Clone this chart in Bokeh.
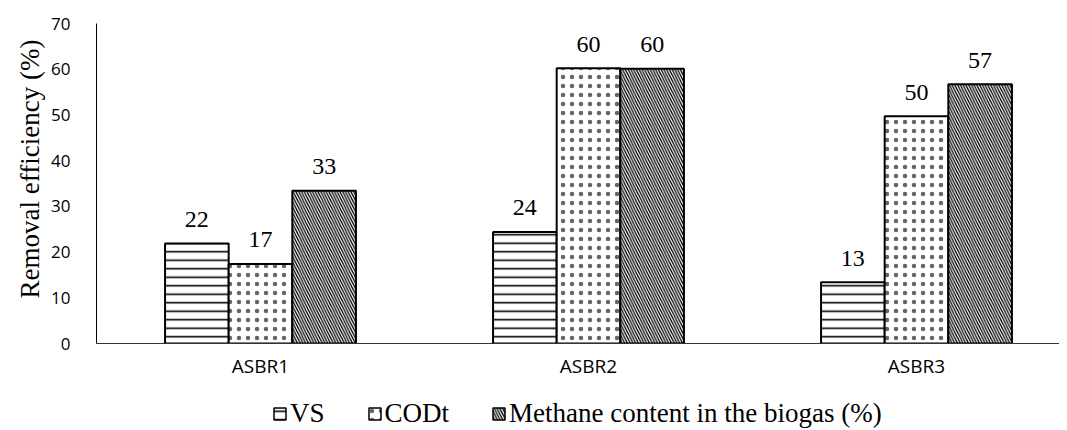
from bokeh.plotting import figure
from bokeh.models import ColumnDataSource, Range1d, FixedTicker, Legend, LegendItem, Title
from bokeh.layouts import column
from bokeh.core.properties import value
from bokeh.embed import file_html
from bokeh.resources import INLINE

categories = ["ASBR1", "ASBR2", "ASBR3"]
vs = [21.9, 24.4, 13.4]
codt = [17.4, 60.2, 49.7]
methane = [33.4, 60.1, 56.7]
series_names = ["VS", "CODt", "Methane content in the biogas (%)"]
y_ticks = [0, 10, 20, 30, 40, 50, 60, 70]
y_title = "Removal efficiency (%)"

SERIF = "Liberation Serif"
SANS = "Open Sans"

p = figure(frame_width=963, frame_height=320, output_backend="svg", toolbar_location=None,
           x_range=Range1d(0, 2.936), y_range=Range1d(0, 70),
           min_border_left=96, min_border_right=0, min_border_top=23, min_border_bottom=45)
p.outline_line_color = None
p.grid.visible = False

centers = [i + 0.5 for i in range(len(categories))]
bw = 0.194
offsets = [-bw, 0.0, bw]
hatches = [("-", 8.5, 1.6, 1.0), (".", 9, 0.7, 0.6), ("\\", 5.5, 1.3, 1.0)]
styles = dict(fill_color="white", line_color="black", line_width=2, hatch_color="black")

for vals, off, (hp, hs, hw, ha) in zip([vs, codt, methane], offsets, hatches):
    xs = [c + off for c in centers]
    src = ColumnDataSource(dict(x=xs, top=vals, lab=[str(int(round(v))) for v in vals]))
    p.vbar(x="x", top="top", width=bw, bottom=0, source=src,
           hatch_pattern=hp, hatch_scale=hs, hatch_weight=hw, hatch_alpha=ha, **styles)
    p.text(x="x", y="top", text="lab", source=src, text_align="center",
           text_baseline="alphabetic", y_offset=-24, text_font=value(SERIF),
           text_font_size="24px", text_color="black")

# axes
p.yaxis.ticker = FixedTicker(ticks=y_ticks)
p.yaxis.major_tick_line_color = None
p.yaxis.minor_tick_line_color = None
p.yaxis.axis_line_color = "black"
p.yaxis.major_label_standoff = 20
p.yaxis.major_label_text_font = SANS
p.yaxis.major_label_text_font_size = "17px"
p.yaxis.major_label_text_color = "black"

p.add_layout(Title(text=y_title, text_font=SERIF, text_font_size="27px",
                   text_font_style="normal", text_color="black",
                   align="left", offset=45, standoff=8), "left")

p.xaxis.ticker = FixedTicker(ticks=centers)
p.xaxis.major_label_overrides = {c: n for c, n in zip(centers, categories)}
p.xaxis.major_tick_line_color = None
p.xaxis.minor_tick_line_color = None
p.xaxis.axis_line_color = "#333333"
p.xaxis.major_label_standoff = 3
p.xaxis.major_label_text_font = SANS
p.xaxis.major_label_text_font_size = "19px"
p.xaxis.major_label_text_color = "black"

# legend strip below the chart
lg = figure(width=1059, height=42, output_backend="svg", toolbar_location=None,
            x_range=Range1d(0, 1), y_range=Range1d(0, 1),
            x_axis_location=None, y_axis_location=None,
            min_border_left=0, min_border_right=0, min_border_top=0, min_border_bottom=0)
lg.grid.visible = False
lg.outline_line_color = None
items = []
for (hp, hs, hw, ha), name in zip(hatches, series_names):
    # zero-size placeholder below the visible strip, only used for the legend swatch
    r = lg.vbar(x=[0.5], top=[-2], bottom=[-2], width=0, hatch_pattern=hp, hatch_scale=hs,
                hatch_weight=hw, hatch_alpha=ha, **dict(styles, line_width=1.5))
    items.append(LegendItem(label=name, renderers=[r]))
legend = Legend(items=items, orientation="horizontal", location=(176, 1),
                label_text_font=SERIF, label_text_font_size="27px", label_text_color="black",
                glyph_width=15, glyph_height=15, spacing=42, label_standoff=3,
                border_line_color=None, background_fill_alpha=0, margin=0, padding=2)
lg.add_layout(legend, "center")

open("out.html", "w").write(file_html(column(p, lg, spacing=0), INLINE))
